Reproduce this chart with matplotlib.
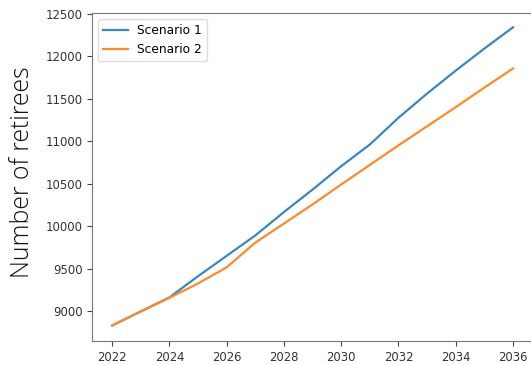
import numpy as np
import matplotlib
matplotlib.use('Agg')
import matplotlib.pyplot as plt

years = list(range(2022, 2037))
scenario1 = [8830, 8995, 9160, 9410, 9650, 9890, 10165, 10430, 10705,
             10960, 11275, 11560, 11830, 12090, 12340]
scenario2 = [8830, 8995, 9155, 9325, 9515, 9805, 10030, 10255, 10490,
             10720, 10950, 11175, 11400, 11630, 11855]
xticks = list(range(2022, 2037, 2))
yticks = list(range(9000, 12501, 500))

fig = plt.figure(figsize=(5.31, 3.65), dpi=100)
ax = fig.add_axes([0.1736, 0.0658, 0.8302, 0.8978])

ax.plot(years, scenario1, color='#3a87c0', lw=1.6, label='Scenario 1')
ax.plot(years, scenario2, color='#ff8a2a', lw=1.6, label='Scenario 2')

ax.set_xlim(2021.3, 2036.7)
ax.set_ylim(8647, 12505)
ax.set_xticks(xticks)
ax.set_yticks(yticks)
ax.tick_params(labelsize=8.4, colors='#444444', labelcolor='#333333')
for s in ax.spines.values():
    s.set_color('#777777')
ax.spines['right'].set_visible(False)

ax.set_ylabel('Number of retirees', fontsize=17.8, family=['Open Sans', 'DejaVu Sans'],
              fontweight=300, color='#111111')
ax.yaxis.set_label_coords(-0.13, 0.515)
ax.legend(loc='upper left', fontsize=8.8, framealpha=1, edgecolor='#dddddd')

fig.savefig('out.png', dpi=100)
